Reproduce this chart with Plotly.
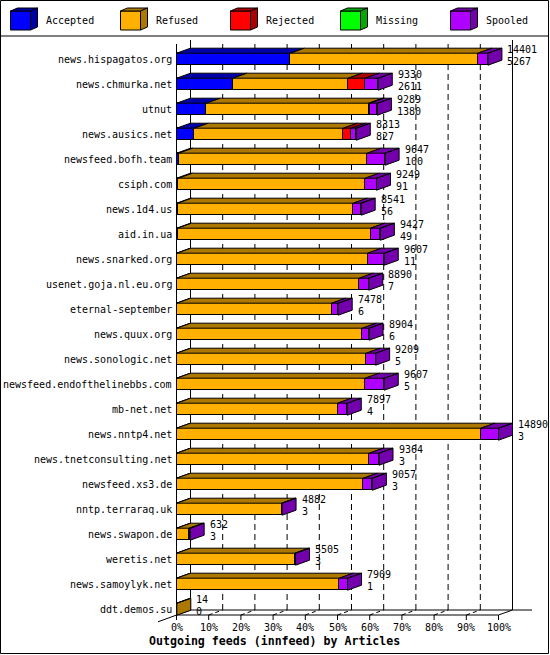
import plotly.graph_objects as go

# ---------------- data ----------------
hosts = ["news.hispagatos.org", "news.chmurka.net", "utnut", "news.ausics.net",
         "newsfeed.bofh.team", "csiph.com", "news.1d4.us", "aid.in.ua",
         "news.snarked.org", "usenet.goja.nl.eu.org", "eternal-september",
         "news.quux.org", "news.sonologic.net", "newsfeed.endofthelinebbs.com",
         "mb-net.net", "news.nntp4.net", "news.tnetconsulting.net",
         "newsfeed.xs3.de", "nntp.terraraq.uk", "news.swapon.de", "weretis.net",
         "news.samoylyk.net", "ddt.demos.su"]
offered = [14401, 9330, 9289, 8313, 9647, 9249, 8541, 9427, 9607, 8890, 7478,
           8904, 9209, 9607, 7897, 14890, 9364, 9057, 4882, 632, 5505, 7909, 14]
accepted = [5267, 2611, 1380, 827, 100, 91, 56, 49, 11, 7, 6, 6, 5, 5, 4, 3, 3,
            3, 3, 3, 3, 1, 0]
refused = [8674, 5335, 7506, 6887, 8724, 8640, 8121, 8930, 8829, 8446, 7169,
           8587, 8773, 8726, 7449, 14077, 8914, 8637, 4863, 589, 5476, 7528, 14]
rejected = [0, 786, 75, 370, 0, 0, 0, 0, 0, 0, 0, 0, 0, 0, 0, 0, 0, 0, 0, 0, 0,
            0, 0]
missing = [0, 0, 0, 0, 0, 0, 0, 0, 0, 0, 0, 0, 0, 0, 0, 0, 0, 0, 0, 0, 0, 0, 0]
spooled = [460, 598, 328, 229, 823, 518, 364, 448, 767, 437, 303, 311, 431, 876,
           444, 810, 447, 417, 16, 40, 26, 380, 0]
pct_ticks = [0, 10, 20, 30, 40, 50, 60, 70, 80, 90, 100]
x_title = "Outgoing feeds (innfeed) by Articles"

series = [
    ("Accepted", accepted, "#0000FF", "#0000A8"),
    ("Refused", refused, "#FFB000", "#AD7800"),
    ("Rejected", rejected, "#FF0000", "#AD0000"),
    ("Missing", missing, "#00FF00", "#00A800"),
    ("Spooled", spooled, "#B000FF", "#7400AD"),
]

# ---------------- geometry (pixels) ----------------
W, H = 550, 655
L, R, T, B = 150, 540, 40, 625
X0PX = 176.5          # front-plane 0 %
PX100 = 322.0         # pixels for 100 %
ROW0 = 59.2           # centre of first bar
ROWH = 25.0           # row pitch
DEPX, DEPY = 14.0, 5.0
XMAX = max(offered)
K = XMAX / PX100      # articles per pixel


def xv(px):
    return (px - X0PX) * K


def yv(py):
    return (py - ROW0) / ROWH


def xp(px):
    return (px - L) / (R - L)


def yp(py):
    return (B - py) / (B - T)


DX = DEPX * K
DY = DEPY / ROWH
HH = 6.0 / ROWH
n = len(hosts)
rows = list(range(n))
FONT = "DejaVu Sans Mono"

fig = go.Figure()

# front faces
for name, vals, col, dark in series:
    fig.add_trace(go.Bar(
        y=rows, x=[v if v > 0 else None for v in vals], orientation="h",
        width=2 * HH, name=name, marker=dict(color=col, line=dict(color="black", width=1)),
        hoverinfo="skip", showlegend=False))

# top and side faces
polys = {dark: ([], []) for _, _, _, dark in series}
for i in rows:
    cum = 0
    last_dark = None
    for name, vals, col, dark in series:
        v = vals[i]
        if v <= 0:
            continue
        x0, x1 = cum, cum + v
        yt = i - HH
        px_, py_ = polys[dark]
        px_ += [x0, x1, x1 + DX, x0 + DX, x0, None]
        py_ += [yt, yt, yt - DY, yt - DY, yt, None]
        cum = x1
        last_dark = dark
    if last_dark is not None:
        px_, py_ = polys[last_dark]
        px_ += [cum, cum + DX, cum + DX, cum, cum, None]
        py_ += [i - HH, i - HH - DY, i + HH - DY, i + HH, i - HH, None]
for dark, (pxs, pys) in polys.items():
    if pxs:
        fig.add_trace(go.Scatter(x=pxs, y=pys, mode="lines", fill="toself",
                                 fillcolor=dark, line=dict(color="black", width=1),
                                 hoverinfo="skip", showlegend=False))

shapes = []


def line(x0, y0, x1, y1, dash="solid", ref="data", layer="below"):
    d = dict(type="line", x0=x0, y0=y0, x1=x1, y1=y1, layer=layer,
             line=dict(color="black", width=1, dash=dash))
    if ref == "data":
        d.update(xref="x", yref="y")
    else:
        d.update(xref="paper", yref="paper")
    shapes.append(d)


ybf = yv(610)   # back floor
yff = yv(615)   # front floor
ytop = yv(40)
for p in pct_ticks:
    xf = XMAX * p / 100
    if 0 < p < 100:
        line(xf + DX, ybf, xf + DX, ytop, dash="6px,4px")
        line(xf, yff, xf + DX, ybf, dash="4px,3px")
    line(xf, yff, xf, yv(620))
line(DX, ybf, DX, ytop)
line(XMAX + DX, ybf, XMAX + DX, ytop)
line(0, yff, 0, yv(44))
line(0, yff, XMAX, yff)
line(DX, ybf, xv(532), ybf)
line(xv(158), yv(610 + 33 * DEPY / DEPX), DX, ybf)
line(XMAX, yff, XMAX + DX, ybf)

# frame and legend separator
shapes.append(dict(type="rect", xref="paper", yref="paper", x0=xp(0.5), x1=xp(548.5),
                   y0=yp(0.5), y1=yp(653.5), line=dict(color="black", width=1)))
line(xp(0), yp(36), xp(549), yp(36), ref="paper")

annotations = []
# legend
for j, (name, vals, col, dark) in enumerate(series):
    bx = 10.5 + 110 * j
    shapes.append(dict(type="rect", xref="paper", yref="paper", x0=xp(bx), x1=xp(bx + 20),
                       y0=yp(11), y1=yp(30), fillcolor=col, line=dict(color="black", width=1)))
    shapes.append(dict(type="path", xref="paper", yref="paper",
                       path=f"M{xp(bx)},{yp(11)} L{xp(bx+20)},{yp(11)} L{xp(bx+27)},{yp(8)} L{xp(bx+7)},{yp(8)} Z",
                       fillcolor=dark, line=dict(color="black", width=1)))
    shapes.append(dict(type="path", xref="paper", yref="paper",
                       path=f"M{xp(bx+20)},{yp(11)} L{xp(bx+27)},{yp(8)} L{xp(bx+27)},{yp(27)} L{xp(bx+20)},{yp(30)} Z",
                       fillcolor=dark, line=dict(color="black", width=1)))
    annotations.append(dict(xref="paper", yref="paper", x=xp(bx + 33), y=yp(21),
                            xanchor="left", yanchor="middle", text=name, showarrow=False,
                            font=dict(family=FONT, size=10, color="black")))

# category labels
for i, h in enumerate(hosts):
    annotations.append(dict(x=xv(174), y=i + 0.03, xref="x", yref="y", text=h,
                            xanchor="right", yanchor="middle", showarrow=False,
                            font=dict(family=FONT, size=10, color="black")))
    xt = offered[i] + DX + 3.5 * K
    annotations.append(dict(x=xt, y=i - 10.2 / ROWH, xref="x", yref="y", text=str(offered[i]),
                            xanchor="left", yanchor="middle", showarrow=False,
                            font=dict(family=FONT, size=10, color="black")))
    annotations.append(dict(x=xt, y=i + 1.8 / ROWH, xref="x", yref="y", text=str(accepted[i]),
                            xanchor="left", yanchor="middle", showarrow=False,
                            font=dict(family=FONT, size=10, color="black")))

# percent tick labels
for p in pct_ticks:
    annotations.append(dict(x=XMAX * p / 100, y=yp(627), xref="x", yref="paper", text=f"{p}%",
                            xanchor="center", yanchor="middle", showarrow=False,
                            font=dict(family=FONT, size=10, color="black")))
annotations.append(dict(xref="paper", yref="paper", x=xp(274), y=yp(641), text=x_title,
                        xanchor="center", yanchor="middle", showarrow=False,
                        font=dict(family=FONT, size=11.6, color="black", weight="bold")))

fig.update_layout(
    width=W, height=H, margin=dict(l=L, r=W - R, t=T, b=H - B),
    paper_bgcolor="white", plot_bgcolor="white", barmode="stack", bargap=0,
    showlegend=False, shapes=shapes, annotations=annotations,
    xaxis=dict(range=[xv(L), xv(R)], showgrid=False, zeroline=False, showticklabels=False,
               ticks="", showline=False, fixedrange=True),
    yaxis=dict(range=[yv(B), yv(T)], showgrid=False, zeroline=False, showticklabels=False,
               ticks="", showline=False, fixedrange=True),
)
fig.write_html("out.html", config={"displayModeBar": False},
               post_script="document.body.style.margin='0';document.body.style.overflow='hidden';")
